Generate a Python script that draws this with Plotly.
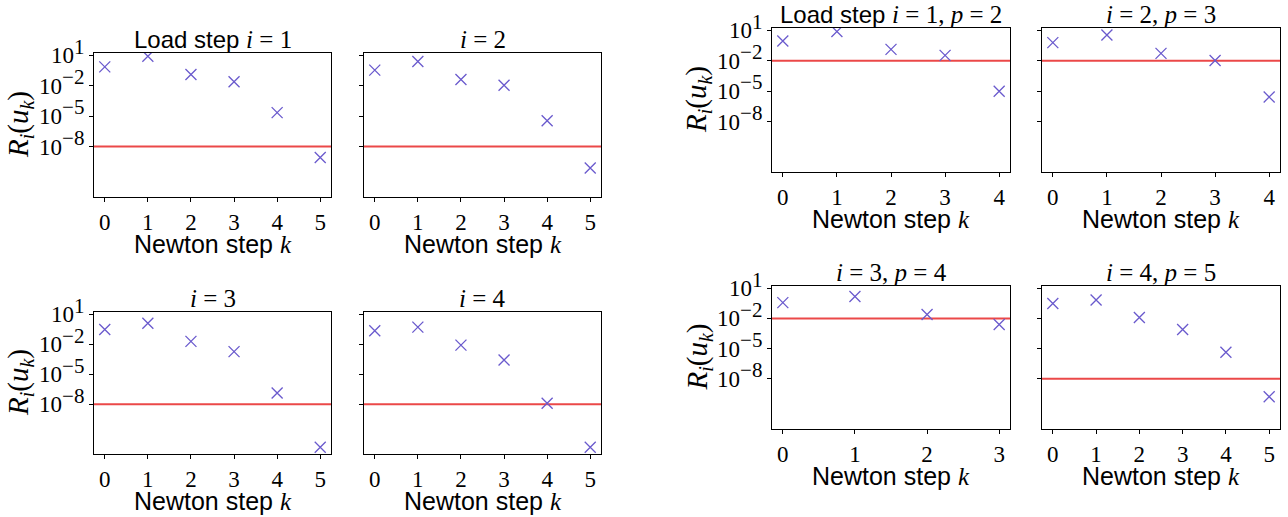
import plotly.graph_objects as go

# ---------------- data ----------------
steps_a = [0, 1, 2, 3, 4, 5]
res_i1 = [0.71, 7.9, 0.126, 0.024, 2.2e-5, 8.3e-10]
res_i2 = [0.34, 2.4, 0.041, 0.011, 3.5e-6, 7.6e-11]
res_i3 = [0.30, 1.26, 0.019, 1.8e-3, 1.3e-7, 5e-13]
res_i4 = [0.22, 0.51, 8.1e-3, 2.6e-4, 1.26e-8, 5e-13]

steps_p2 = [0, 1, 2, 3, 4]
res_p2 = [0.87, 7.4, 0.13, 0.033, 9.5e-6]
steps_p3 = [0, 1, 2, 3, 4]
res_p3 = [0.6, 3.4, 0.052, 0.0105, 2.6e-6]
steps_p4 = [0, 1, 2, 3]
res_p4 = [0.37, 1.5, 0.025, 2.5e-3]
steps_p5 = [0, 1, 2, 3, 4, 5]
res_p5 = [0.3, 0.68, 0.0126, 7.9e-4, 4.3e-6, 1.7e-10]

tol_left = [1e-8, 1e-8, 1e-8, 1e-8]
tol_right = [1e-2, 1e-2, 1e-2, 1e-8]

ytick_vals = [1e1, 1e-2, 1e-5, 1e-8]
ytick_exp = ["1", "−2", "−5", "−8"]

SERIF = "Liberation Serif"
SANS = "Liberation Sans"
FS = 23
ytick_text = ['10<sup><span style="font-size:%dpx">%s</span></sup>' % (FS - 2, e)
              for e in ytick_exp]


def m(s, size=25):
    return '<span style="font-family:%s;font-size:%dpx">%s</span>' % (SERIF, size, s)


def eq(var, val):
    return "<i>%s</i> = %s" % (var, val)


titles = [
    "Load step " + m(eq("i", "1")),
    m(eq("i", "2")),
    m(eq("i", "3")),
    m(eq("i", "4")),
    "Load step " + m(eq("i", "1") + ", " + eq("p", "2")),
    m(eq("i", "2") + ", " + eq("p", "3")),
    m(eq("i", "3") + ", " + eq("p", "4")),
    m(eq("i", "4") + ", " + eq("p", "5")),
]

panels = [
    (steps_a, res_i1, tol_left[0]),
    (steps_a, res_i2, tol_left[1]),
    (steps_a, res_i3, tol_left[2]),
    (steps_a, res_i4, tol_left[3]),
    (steps_p2, res_p2, tol_right[0]),
    (steps_p3, res_p3, tol_right[1]),
    (steps_p4, res_p4, tol_right[2]),
    (steps_p5, res_p5, tol_right[3]),
]

# ---------------- layout (pixel boxes) ----------------
W, H = 1288, 517
boxes = [
    (94, 331, 53, 197),
    (364, 601, 53, 197),
    (94, 331, 312, 454),
    (364, 601, 312, 454),
    (772, 1010, 28, 172),
    (1042, 1280, 28, 172),
    (772, 1010, 286, 429),
    (1042, 1280, 286, 429),
]
show_ylabels = [True, False, True, False, True, False, True, False]

MARKER = "#6a5acd"
RED = "#eb4848"

fig = go.Figure()
layout = dict(
    width=W, height=H, margin=dict(l=0, r=0, t=0, b=0, pad=0, autoexpand=False),
    paper_bgcolor="white", plot_bgcolor="white", showlegend=False,
    font=dict(family=SERIF, size=FS, color="black"),
)
annotations = []

for idx, ((ks, rs, tol), (x0, x1, y0, y1)) in enumerate(zip(panels, boxes)):
    n = idx + 1
    xa = "x" if n == 1 else "x%d" % n
    ya = "y" if n == 1 else "y%d" % n
    kmax = max(ks)
    pad = 0.05 * kmax
    xr = [min(ks) - pad, kmax + pad]
    fig.add_trace(go.Scatter(
        x=xr, y=[tol, tol], mode="lines",
        line=dict(color=RED, width=2), xaxis=xa, yaxis=ya, hoverinfo="skip"))
    fig.add_trace(go.Scatter(
        x=ks, y=rs, mode="markers", xaxis=xa, yaxis=ya,
        marker=dict(symbol="x-thin", size=11, color=MARKER,
                    line=dict(color=MARKER, width=1.3))))
    axcommon = dict(showline=True, mirror=True, linecolor="black", linewidth=1,
                    ticks="outside", ticklen=4, tickcolor="black", tickwidth=1,
                    showgrid=False, zeroline=False, automargin=False)
    layout["xaxis" if n == 1 else "xaxis%d" % n] = dict(
        domain=[x0 / W, x1 / W], anchor=ya, range=xr,
        tickvals=ks, ticktext=[str(k) for k in ks],
        tickfont=dict(family=SERIF, size=FS), **axcommon)
    layout["yaxis" if n == 1 else "yaxis%d" % n] = dict(
        domain=[1 - y1 / H, 1 - y0 / H], anchor=xa, type="log",
        range=[-12.98, 1.22], tickvals=ytick_vals, ticktext=ytick_text,
        showticklabels=show_ylabels[idx],
        tickfont=dict(family=SERIF, size=FS), **axcommon)
    cx = (x0 + x1) / 2 / W
    # title
    annotations.append(dict(
        text=titles[idx], xref="paper", yref="paper", x=cx, y=1 - y0 / H,
        xanchor="center", yanchor="bottom", showarrow=False, yshift=-2,
        font=dict(family=SANS, size=FS + 1)))
    # x title
    annotations.append(dict(
        text="Newton step " + m("<i>k</i>"), xref="paper", yref="paper",
        x=cx, y=1 - (y1 + 47) / H, xanchor="center", yanchor="middle",
        showarrow=False, font=dict(family=SANS, size=FS + 2)))
    if show_ylabels[idx]:
        annotations.append(dict(
            text='<i>R<sub><span style="font-size:20px">i</span></sub></i>(<i>u<sub><span style="font-size:20px">k</span></sub></i>)',
            xref="paper", yref="paper",
            x=(x0 - 74) / W, y=1 - ((y0 + y1) / 2) / H, xanchor="center", yanchor="middle",
            textangle=-90, showarrow=False, font=dict(family=SERIF, size=29)))

layout["annotations"] = annotations
fig.update_layout(**layout)
fig.write_html(
    "out.html",
    config={"displayModeBar": False},
    post_script="document.body.style.margin='0px';document.body.style.overflow='hidden';",
)
